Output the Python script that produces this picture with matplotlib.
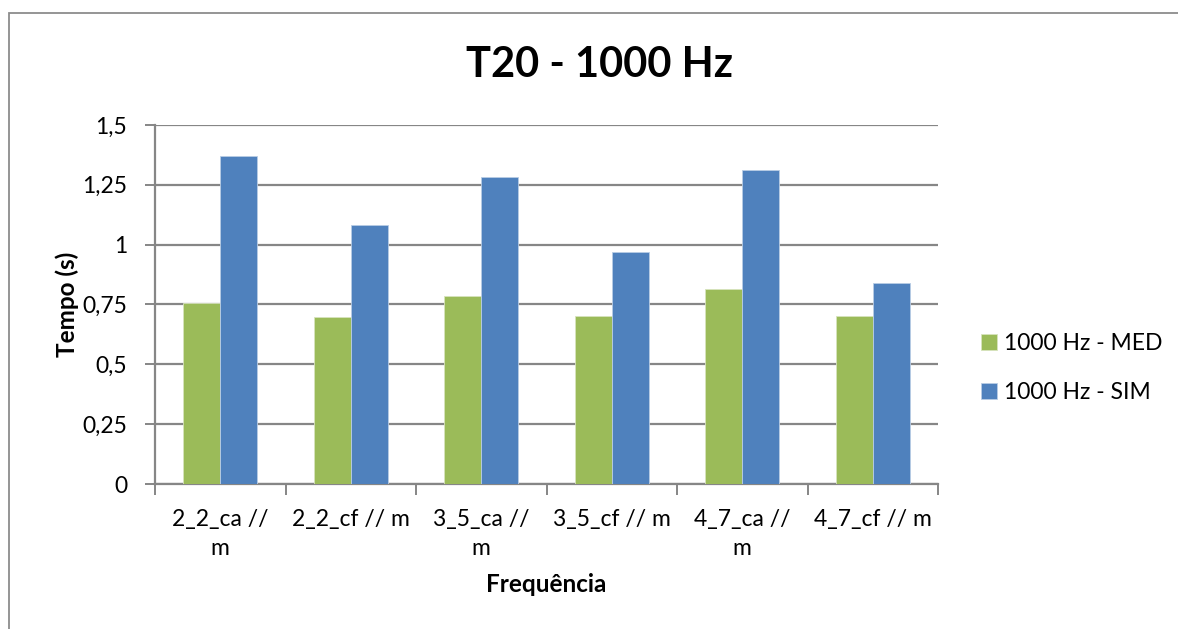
import numpy as np
import matplotlib.pyplot as plt
from matplotlib.patches import Rectangle

# dados do gráfico T20 - 1000 Hz
categorias = ["2_2_ca //\nm", "2_2_cf // m", "3_5_ca //\nm",
              "3_5_cf // m", "4_7_ca //\nm", "4_7_cf // m"]
med = [0.757, 0.698, 0.786, 0.702, 0.816, 0.702]
sim = [1.372, 1.083, 1.283, 0.971, 1.311, 0.838]
yticks = [0, 0.25, 0.5, 0.75, 1, 1.25, 1.5]
ytick_labels = ["0", "0,25", "0,5", "0,75", "1", "1,25", "1,5"]

plt.rcParams["font.family"] = ["Lato", "DejaVu Sans"]
VERDE = "#9bbb59"
AZUL = "#4f81bd"
CINZA = "#868686"

fig = plt.figure(figsize=(11.78, 6.29), dpi=100)
ax = fig.add_axes([0.1316, 0.2305, 0.6647, 0.5708])

# moldura externa do gráfico
fig.patches.append(Rectangle((9 / 1178, -0.1), 1.2, 1 - 13 / 629 + 0.1,
                             transform=fig.transFigure, fill=False,
                             edgecolor="#8c8c8c", linewidth=1.3))

x = np.arange(len(categorias))
w = 0.284
ax.bar(x - w / 2, med, w, color=VERDE, edgecolor="#d7e4bd", linewidth=0.6,
       label="1000 Hz - MED", zorder=3)
ax.bar(x + w / 2, sim, w, color=AZUL, edgecolor="#b9cde5", linewidth=0.6,
       label="1000 Hz - SIM", zorder=3)

ax.set_xlim(-0.5, len(categorias) - 0.5)
ax.set_ylim(0, 1.5)
ax.set_yticks(yticks)
ax.set_yticklabels(ytick_labels, fontsize=16.5)
ax.yaxis.grid(True, color=CINZA, linewidth=1.6, zorder=0)

ax.set_xticks(x)
ax.set_xticklabels(categorias, fontsize=16.5, linespacing=1.45)
ax.set_xticks(np.arange(len(categorias) + 1) - 0.5, minor=True)
ax.tick_params(axis="x", which="major", length=0, pad=18)
ax.tick_params(axis="x", which="minor", length=8, width=1.4, color=CINZA)
ax.tick_params(axis="y", length=7, width=1.4, color=CINZA, pad=13)

for lado in ["top", "right"]:
    ax.spines[lado].set_visible(False)
for lado in ["left", "bottom"]:
    ax.spines[lado].set_color(CINZA)
    ax.spines[lado].set_linewidth(1.6)

ax.set_ylabel("Tempo (s)", fontsize=17.5, fontweight="bold", labelpad=2)
ax.set_xlabel("Frequência", fontsize=17.5, fontweight="bold", labelpad=10)
fig.text(600 / 1178, 1 - 65 / 629, "T20 - 1000 Hz", fontsize=30,
         fontweight="bold", ha="center", va="center")

ax.legend(loc="center left", bbox_to_anchor=(972 / 1178, 1 - 368 / 629),
          bbox_transform=fig.transFigure, frameon=False, fontsize=16.5,
          handlelength=0.7, handleheight=0.7, handletextpad=0.3,
          labelspacing=1.2, borderaxespad=0)

fig.savefig("out.png", dpi=100)
